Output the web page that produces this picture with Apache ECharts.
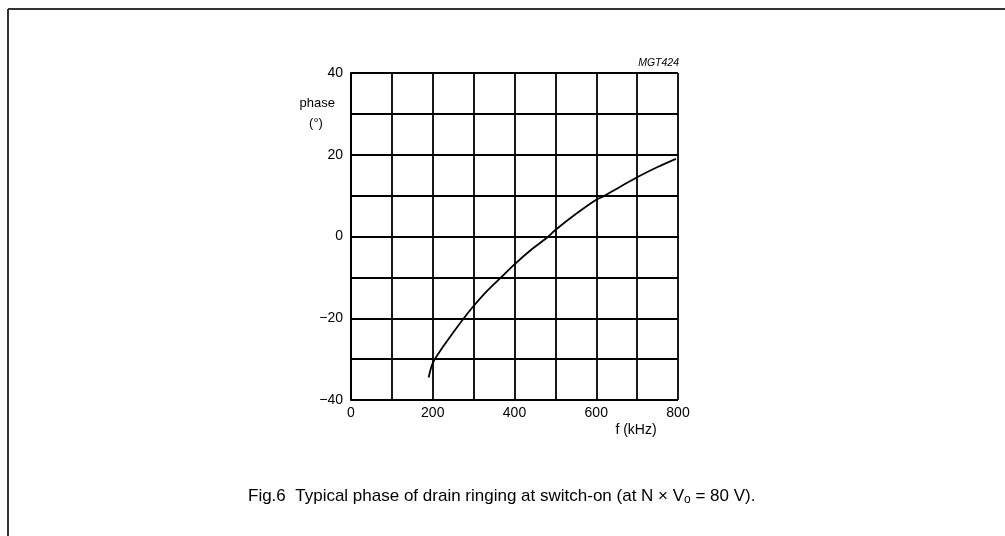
<!DOCTYPE html>
<html>
<head>
<meta charset="utf-8">
<script src="https://cdn.jsdelivr.net/npm/echarts@6/dist/echarts.min.js"></script>
<style>
html,body{margin:0;padding:0;background:#fff;}
#chart{width:1005px;height:536px;}
</style>
</head>
<body>
<div id="chart"></div>
<script>
// phase curve: [f (kHz), phase (deg)]
let freq=[190,200,225,250,276,300,333,367,400,440,483,500,550,600,621,650,700,750,795]
let phase=[-34.5,-31,-27,-23.5,-20,-17,-13.3,-10,-6.8,-3.3,0,1.6,5.5,9,10,11.7,14.5,17,19]
let xTicks=[0,200,400,600,800]
let yTicks=[40,20,0,-20,-40]

let points=freq.map((f,i)=>[f,phase[i]])
let myChart=echarts.init(document.getElementById("chart"))
let font="Liberation Sans, Arial, sans-serif"

myChart.setOption({
  animation:false,
  grid:{left:351,top:73,width:327,height:327},
  xAxis:{
    type:"value",min:0,max:800,interval:100,
    axisLine:{show:true,lineStyle:{color:"#000",width:2}},
    axisTick:{show:false},
    splitLine:{lineStyle:{color:"#000",width:1.8}},
    axisLabel:{
      color:"#000",fontFamily:font,fontSize:14,margin:6,
      formatter:(v)=>xTicks.includes(v)?String(v):""
    }
  },
  yAxis:{
    type:"value",min:-40,max:40,interval:10,
    axisLine:{show:true,lineStyle:{color:"#000",width:2}},
    axisTick:{show:false},
    splitLine:{lineStyle:{color:"#000",width:1.8}},
    axisLabel:{
      color:"#000",fontFamily:font,fontSize:14,margin:8,
      formatter:(v)=>yTicks.includes(v)?String(v).replace("-","\u2212"):""
    }
  },
  series:[{
    type:"line",data:points,smooth:0.3,showSymbol:false,
    lineStyle:{color:"#000",width:1.8}
  }],
  graphic:[
    {type:"line",shape:{x1:8,y1:9,x2:1005,y2:9},style:{stroke:"#333",lineWidth:2}},
    {type:"line",shape:{x1:8,y1:9,x2:8,y2:536},style:{stroke:"#333",lineWidth:2}},
    {type:"text",x:335,y:103,style:{text:"phase",align:"right",verticalAlign:"middle",font:"13px "+font,fill:"#000"}},
    {type:"text",x:316,y:123,style:{text:"(°)",align:"center",verticalAlign:"middle",font:"13px "+font,fill:"#000"}},
    {type:"text",x:636,y:430,style:{text:"f (kHz)",align:"center",verticalAlign:"middle",font:"14px "+font,fill:"#000"}},
    {type:"text",x:679,y:63,style:{text:"MGT424",align:"right",verticalAlign:"middle",font:"italic 10.5px "+font,fill:"#000"}},
    {type:"text",x:248,y:496,style:{
      verticalAlign:"middle",
      text:"{t|Fig.6  Typical phase of drain ringing at switch-on (at N \u00d7 V}{s|o}{t| = 80 V).}",
      rich:{
        t:{fontFamily:font,fontSize:17,fill:"#000"},
        s:{fontFamily:font,fontSize:12,fill:"#000",padding:[7,0,0,0]}
      }
    }}
  ]
})
</script>
</body>
</html>
